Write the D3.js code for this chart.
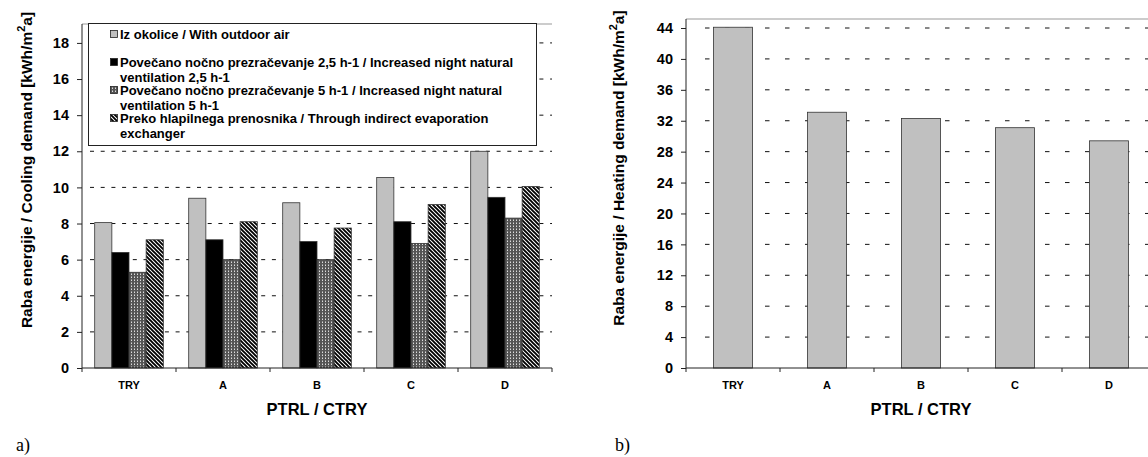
<!DOCTYPE html>
<html>
<head>
<meta charset="utf-8">
<script src="https://cdn.jsdelivr.net/npm/d3@7"></script>
<style>
    body { margin: 0; background: #fff; }
    svg { display: block; font-family: "Liberation Sans", Arial, sans-serif; }
</style>
</head>
<body>
<svg id="chart" width="1148" height="457"></svg>
<script>
// --- Data ---
const categories = ["TRY", "A", "B", "C", "D"];
const coolingSeries = [
    "Iz okolice / With outdoor air",
    "Povečano nočno prezračevanje 2,5 h-1 / Increased night natural ventilation 2,5 h-1",
    "Povečano nočno prezračevanje 5 h-1 / Increased night natural ventilation 5 h-1",
    "Preko hlapilnega prenosnika / Through indirect evaporation exchanger"
];
const outdoorAir = [8.05, 9.4, 9.15, 10.55, 12.0];
const night25 = [6.4, 7.1, 7.0, 8.1, 9.45];
const night5 = [5.3, 6.0, 6.0, 6.9, 8.3];
const evapExchanger = [7.1, 8.1, 7.75, 9.05, 10.05];
const heatingDemand = [44.1, 33.1, 32.3, 31.1, 29.4];
const coolingTicks = [0, 2, 4, 6, 8, 10, 12, 14, 16, 18];
const heatingTicks = [0, 4, 8, 12, 16, 20, 24, 28, 32, 36, 40, 44];

// legend lines, wrapped like the original
const legendLines = [
    ["Iz okolice / With outdoor air"],
    ["Povečano nočno prezračevanje 2,5 h-1 / Increased night natural", "ventilation 2,5 h-1"],
    ["Povečano nočno prezračevanje 5 h-1 / Increased night natural", "ventilation 5 h-1"],
    ["Preko hlapilnega prenosnika / Through indirect evaporation", "exchanger"]
];

const svg = d3.select("#chart");

// --- Patterns ---
const defs = svg.append("defs");
const mesh = defs.append("pattern").attr("id", "mesh")
    .attr("patternUnits", "userSpaceOnUse").attr("width", 3).attr("height", 3);
mesh.append("rect").attr("width", 3).attr("height", 3).attr("fill", "#555");
mesh.append("rect").attr("x", 1).attr("y", 0).attr("width", 1).attr("height", 1).attr("fill", "#999");
mesh.append("rect").attr("x", 1).attr("y", 1).attr("width", 1).attr("height", 1).attr("fill", "#ddd");

const hatch = defs.append("pattern").attr("id", "hatch")
    .attr("patternUnits", "userSpaceOnUse").attr("width", 4).attr("height", 4);
hatch.append("rect").attr("width", 4).attr("height", 4).attr("fill", "#fff");
hatch.append("path").attr("d", "M-1,-1L5,5M3,-1L5,1M-1,3L1,5")
    .attr("stroke", "#000").attr("stroke-width", 1.9);

const fills = ["#c0c0c0", "#000000", "url(#mesh)", "url(#hatch)"];

function drawFrame(g, y, ticks, left, right, top, dash, offset) {
    // dashed gridlines
    g.append("g").selectAll("line").data(ticks.filter(t => t > 0)).join("line")
        .attr("x1", left + offset).attr("x2", right)
        .attr("y1", d => y(d)).attr("y2", d => y(d))
        .attr("stroke", "#111").attr("stroke-width", 1)
        .attr("stroke-dasharray", dash);
    // top border
    g.append("line").attr("x1", left).attr("x2", right).attr("y1", top).attr("y2", top)
        .attr("stroke", "#999").attr("stroke-width", 1);
}

function drawAxes(g, x, y, ticks, left, right, top, bottom) {
    const yAxis = g.append("g").attr("transform", `translate(${left},0)`)
        .call(d3.axisLeft(y).tickValues(ticks).tickSize(5).tickSizeOuter(0).tickPadding(8));
    yAxis.select(".domain").attr("d", `M0,${bottom}V${top}`).attr("stroke", "#222");
    yAxis.selectAll(".tick line").attr("stroke", "#222");
    yAxis.selectAll("text").attr("font-size", 14.5).attr("font-weight", "bold")
        .attr("font-family", "Liberation Sans, Arial, sans-serif").attr("fill", "#000");

    // x axis: ticks between categories
    const bounds = d3.range(categories.length + 1).map(i => left + i * x.step());
    g.append("line").attr("x1", left).attr("x2", right).attr("y1", bottom).attr("y2", bottom)
        .attr("stroke", "#222");
    g.append("g").selectAll("line").data(bounds).join("line")
        .attr("x1", d => d).attr("x2", d => d).attr("y1", bottom).attr("y2", bottom + 4)
        .attr("stroke", "#222");
    g.append("g").selectAll("text").data(categories).join("text")
        .attr("x", d => x(d) + x.bandwidth() / 2).attr("y", bottom + 21)
        .attr("text-anchor", "middle").attr("font-size", 11).attr("font-weight", "bold")
        .text(d => d);
    g.append("text").attr("x", left + 2.5 * x.step()).attr("y", bottom + 47)
        .attr("text-anchor", "middle").attr("font-size", 16.5).attr("font-weight", "bold")
        .text("PTRL / CTRY");
}

function yTitle(g, cx, cy, label) {
    const t = g.append("text").attr("transform", `translate(${cx},${cy}) rotate(-90)`)
        .attr("text-anchor", "middle").attr("font-size", 15.5).attr("font-weight", "bold");
    t.append("tspan").text(label + " [kWh/m");
    t.append("tspan").attr("font-size", 11).attr("dy", -7).text("2");
    t.append("tspan").attr("dy", 7).text("a]");
}

// --- Chart a) cooling ---
{
    const L = 82, R = 552, T = 24, B = 368;
    const g = svg.append("g");
    const x0 = d3.scaleBand().domain(categories).range([L, R]);
    const x1 = d3.scaleBand().domain(d3.range(4)).range([12.7, x0.step() - 12.7]);
    const y = d3.scaleLinear().domain([0, 19]).range([B, B - 19 * 18.06]);

    drawFrame(g, y, coolingTicks, L, R, T, "4,6.7", 8);

    const seriesVals = [outdoorAir, night25, night5, evapExchanger];
    const rows = categories.map((c, i) => ({ c, vals: seriesVals.map(s => s[i]) }));
    g.append("g").selectAll("g").data(rows).join("g")
        .attr("transform", d => `translate(${x0(d.c)},0)`)
        .selectAll("rect").data(d => d.vals.map((v, k) => ({ v, k }))).join("rect")
        .attr("x", d => x1(d.k)).attr("width", x1.bandwidth())
        .attr("y", d => y(d.v)).attr("height", d => y(0) - y(d.v))
        .attr("fill", d => fills[d.k]).attr("stroke", "#333").attr("stroke-width", 0.8);

    // legend
    const lg = g.append("g");
    lg.append("rect").attr("x", 88.5).attr("y", 23.5).attr("width", 448).attr("height", 122)
        .attr("fill", "#fff").attr("stroke", "#222").attr("stroke-width", 1);
    const itemY = [39, 67, 95, 123];
    legendLines.forEach((lines, k) => {
        lg.append("rect").attr("x", 110.5).attr("y", itemY[k] - 8.5).attr("width", 7).attr("height", 7)
            .attr("fill", fills[k]).attr("stroke", "#222").attr("stroke-width", 0.8);
        lines.forEach((ln, j) => {
            lg.append("text").attr("x", 120).attr("y", itemY[k] + j * 15)
                .attr("font-size", 13).attr("font-weight", "bold").text(ln);
        });
    });

    drawAxes(g, x0, y, coolingTicks, L, R, T, B);
    yTitle(g, 32, 170, "Raba energije / Cooling demand");

    svg.append("text").attr("x", 16).attr("y", 451)
        .attr("font-family", "Liberation Serif, Times New Roman, serif").attr("font-size", 18)
        .text("a)");
}

// --- Chart b) heating ---
{
    const L = 686, R = 1156, T = 19, B = 368;
    const g = svg.append("g");
    const x = d3.scaleBand().domain(categories).range([L, R]);
    const y = d3.scaleLinear().domain([0, 45.2]).range([B, B - 45.2 * 7.727]);

    drawFrame(g, y, heatingTicks, L, R, T, "4.5,15.5", 19);

    const bw = 39;
    g.append("g").selectAll("rect").data(categories.map((c, i) => ({ c, v: heatingDemand[i] }))).join("rect")
        .attr("x", d => x(d.c) + (x.bandwidth() - bw) / 2).attr("width", bw)
        .attr("y", d => y(d.v)).attr("height", d => y(0) - y(d.v))
        .attr("fill", "#c0c0c0").attr("stroke", "#333").attr("stroke-width", 0.8);

    drawAxes(g, x, y, heatingTicks, L, R, T, B);
    yTitle(g, 624, 168, "Raba energije / Heating demand");

    svg.append("text").attr("x", 615).attr("y", 451)
        .attr("font-family", "Liberation Serif, Times New Roman, serif").attr("font-size", 18)
        .text("b)");
}
</script>
</body>
</html>
